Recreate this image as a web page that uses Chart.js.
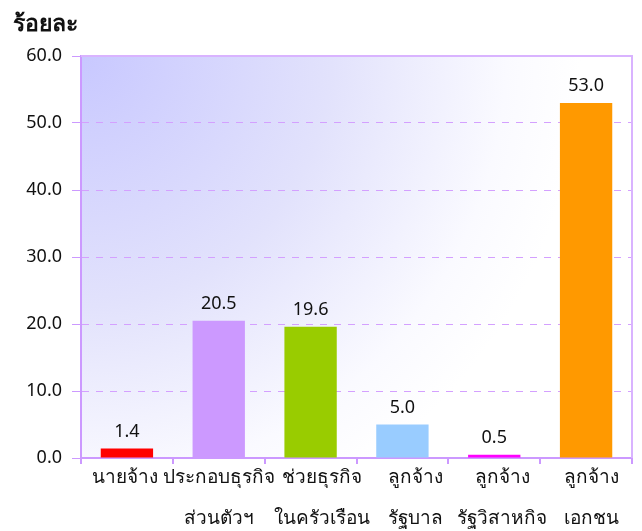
<!DOCTYPE html>
<html>
<head>
<meta charset="utf-8">
<script src="https://cdn.jsdelivr.net/npm/chart.js@4.4.0/dist/chart.umd.min.js"></script>
<style>
  html, body { margin: 0; padding: 0; background: #fff; }
  #wrap { width: 642px; height: 531px; }
</style>
</head>
<body>
<div id="wrap"><canvas id="chart" width="642" height="531"></canvas></div>
<script>
const categories = [
  ["นายจ้าง", ""],
  ["ประกอบธุรกิจ", "ส่วนตัวฯ"],
  ["ช่วยธุรกิจ", "ในครัวเรือน"],
  ["ลูกจ้าง", "รัฐบาล"],
  ["ลูกจ้าง", "รัฐวิสาหกิจ"],
  ["ลูกจ้าง", "เอกชน"]
];
const values = [1.4, 20.5, 19.6, 5.0, 0.5, 53.0];
const barColors = ["#ff0000", "#cc99ff", "#99cc00", "#99ccff", "#ff00ff", "#ff9900"];
const yTitle = "ร้อยละ";

const FONT = "'Noto Sans', 'DejaVu Sans', sans-serif";

// plot background: lavender glow from the top-left corner
const bgPlugin = {
  id: "bg",
  beforeDraw(chart) {
    const { ctx, chartArea: a } = chart;
    const g = ctx.createRadialGradient(a.left, a.top, 0, a.left, a.top, 500);
    g.addColorStop(0, "#c8c8ff");
    g.addColorStop(0.5, "#e2e2fc");
    g.addColorStop(0.85, "#fafaff");
    g.addColorStop(1, "#ffffff");
    ctx.save();
    ctx.fillStyle = g;
    ctx.fillRect(a.left, a.top, a.right - a.left, a.bottom - a.top);
    ctx.restore();
  },
  afterDraw(chart) {
    const { ctx, chartArea: a } = chart;
    ctx.save();
    ctx.strokeStyle = "#d9b3ff";
    ctx.lineWidth = 2;
    ctx.beginPath();
    ctx.moveTo(a.left, a.top);
    ctx.lineTo(a.right, a.top);
    ctx.lineTo(a.right, a.bottom);
    ctx.stroke();
    // y title
    ctx.fillStyle = "#111";
    ctx.font = "bold 23px " + FONT;
    ctx.textBaseline = "alphabetic";
    ctx.textAlign = "left";
    ctx.fillText(yTitle, 13, 31);
    ctx.restore();
  }
};

// value labels above bars
const labelPlugin = {
  id: "vals",
  afterDatasetsDraw(chart) {
    const { ctx } = chart;
    const meta = chart.getDatasetMeta(0);
    ctx.save();
    ctx.fillStyle = "#111";
    ctx.font = "18px " + FONT;
    ctx.textAlign = "center";
    ctx.textBaseline = "bottom";
    meta.data.forEach((bar, i) => {
      ctx.fillText(values[i].toFixed(1), bar.x, bar.y - 8);
    });
    ctx.restore();
  }
};

// category labels, two lines, nudged like the original layout
const xLabelPlugin = {
  id: "xlabels",
  afterDraw(chart) {
    const { ctx } = chart;
    const xs = chart.scales.x;
    const nudge = [-2, 0, 11, 13, 8, 5];
    ctx.save();
    ctx.fillStyle = "#111";
    ctx.font = "19px " + FONT;
    ctx.textAlign = "center";
    ctx.textBaseline = "middle";
    categories.forEach((lines, i) => {
      const x = xs.getPixelForTick(i) + nudge[i];
      lines.forEach((t, j) => ctx.fillText(t, x, xs.top + 20 + j * 41));
    });
    ctx.restore();
  }
};

new Chart(document.getElementById("chart"), {
  type: "bar",
  data: {
    labels: categories,
    datasets: [{
      data: values,
      backgroundColor: barColors,
      borderWidth: 0,
      categoryPercentage: 0.57,
      barPercentage: 1.0
    }]
  },
  options: {
    responsive: false,
    animation: false,
    layout: { padding: { top: 56, right: 10, left: 10, bottom: 0 } },
    plugins: { legend: { display: false }, tooltip: { enabled: false } },
    scales: {
      x: {
        afterFit(scale) { scale.height = 73; },
        grid: {
          offset: true,
          drawOnChartArea: false,
          drawTicks: true,
          tickLength: 6,
          color: "#cc99ff",
          lineWidth: 2
        },
        border: { color: "#cc99ff", width: 2 },
        ticks: { display: false }
      },
      y: {
        min: 0,
        max: 60,
        afterFit(scale) { scale.width = 71; },
        ticks: {
          stepSize: 10,
          color: "#111",
          font: { family: FONT, size: 18 },
          padding: 10,
          callback: v => v.toFixed(1)
        },
        grid: {
          color: "#d4a0ff",
          lineWidth: 1,
          tickLength: 9,
          tickBorderDash: [],
          tickColor: "#cc99ff"
        },
        border: { color: "#cc99ff", width: 2, dash: [7, 7] }
      }
    }
  },
  plugins: [bgPlugin, labelPlugin, xLabelPlugin]
});
</script>
</body>
</html>
